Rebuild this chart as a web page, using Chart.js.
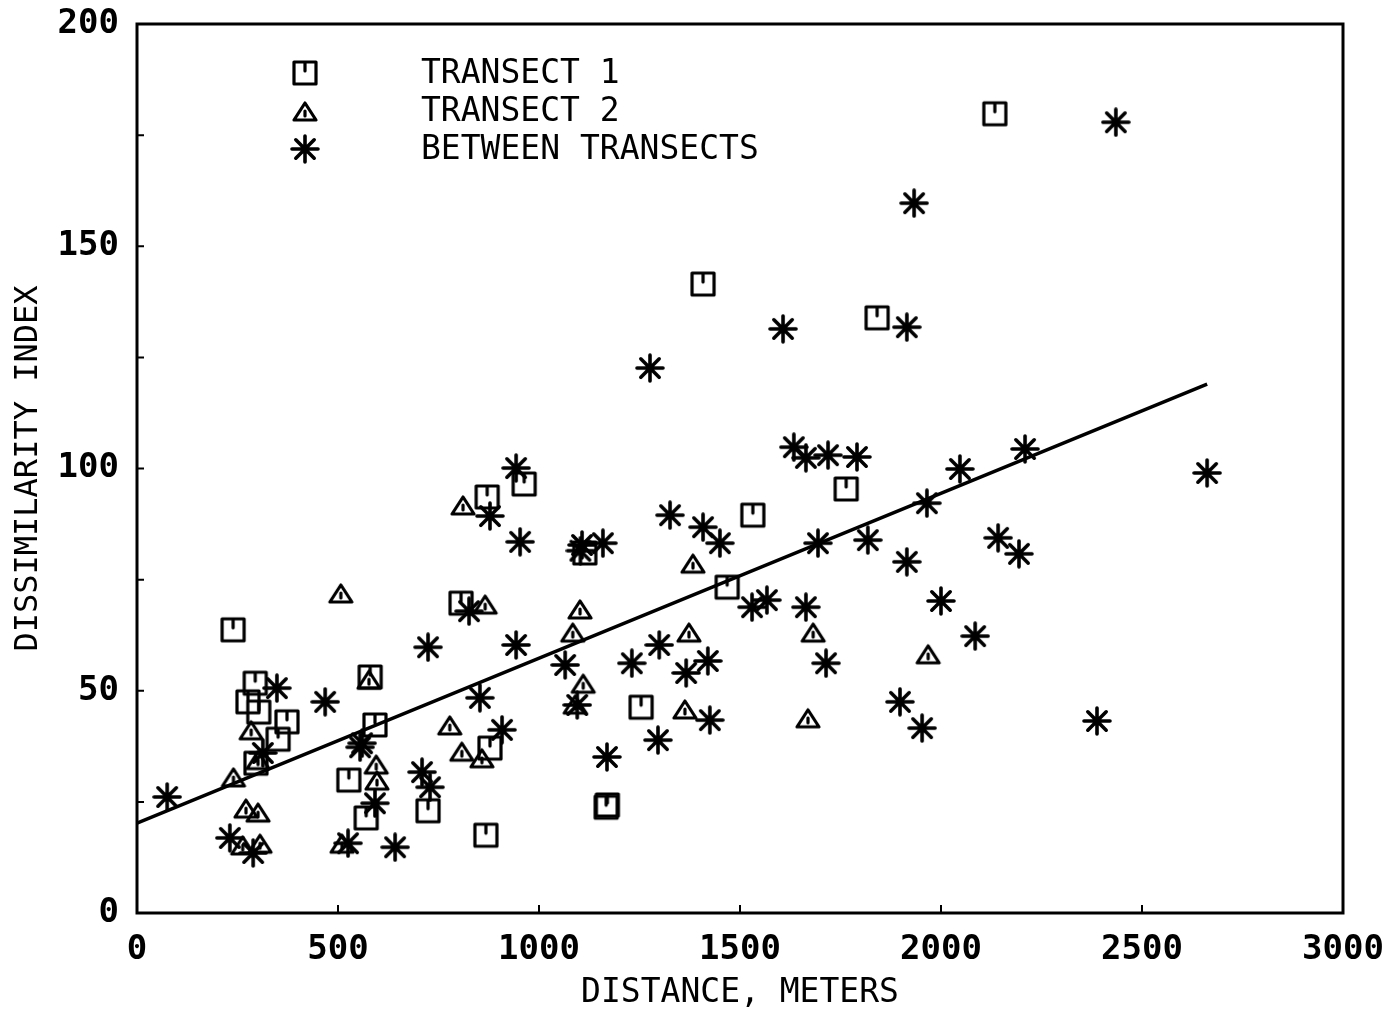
<!DOCTYPE html>
<html>
<head>
<meta charset="utf-8">
<script src="https://cdn.jsdelivr.net/npm/chart.js@4.4.1/dist/chart.umd.min.js"></script>
<style>
  html, body { margin: 0; padding: 0; background: #fff; }
</style>
</head>
<body>
<canvas id="chart" width="1386" height="1010"></canvas>
<script>
// values
var transect1X = [239, 2134, 1408, 1841, 963, 871, 1532, 1764, 1468, 1114, 806, 580, 294, 276, 303, 373, 351, 296, 592, 527, 570, 724, 868, 878, 1254, 1167, 1170];
var transect1Y = [63.7, 179.8, 141.5, 133.9, 96.5, 93.6, 89.5, 95.4, 73.3, 81.0, 69.7, 53.1, 51.7, 47.5, 45.2, 43.0, 39.1, 33.7, 42.3, 29.9, 21.4, 23.0, 17.5, 37.1, 46.3, 23.8, 24.3];

var transect2X = [507, 811, 866, 1102, 1084, 1110, 1383, 1373, 1363, 1682, 1669, 1968, 778, 808, 858, 577, 595, 597, 240, 284, 271, 301, 306, 263, 510, 1090, 301];
var transect2Y = [72.0, 91.8, 69.5, 68.4, 63.2, 51.7, 78.7, 63.2, 45.9, 63.2, 43.9, 58.3, 42.3, 36.4, 34.9, 52.6, 33.5, 29.9, 30.6, 41.2, 23.6, 22.7, 15.7, 15.3, 15.7, 47.0, 34.5];

var betweenX = [75, 2435, 1933, 1915, 1607, 1276, 1634, 1664, 1719, 1791, 2047, 2209, 2662, 943, 878, 953, 1326, 1408, 1450, 1107, 1159, 1694, 1818, 1965, 2142, 2194, 1915, 2000, 2085, 1530, 1567, 1664, 1714, 826, 724, 943, 1065, 1231, 1299, 1366, 1420, 1425, 1296, 1169, 1095, 1898, 1953, 2388, 468, 853, 908, 560, 592, 709, 729, 525, 642, 348, 313, 555, 231, 289, 1103];
var betweenY = [26.1, 177.9, 159.7, 131.8, 131.4, 122.6, 104.8, 102.4, 103.0, 102.6, 99.9, 104.4, 99.0, 100.1, 89.3, 83.5, 89.5, 86.8, 83.2, 82.8, 83.2, 83.2, 83.9, 92.2, 84.4, 80.8, 79.0, 70.2, 62.3, 68.8, 70.4, 68.8, 56.2, 67.9, 59.8, 60.3, 55.8, 56.2, 60.3, 54.0, 56.7, 43.4, 38.9, 35.1, 46.8, 47.5, 41.6, 43.2, 47.5, 48.4, 41.2, 38.2, 24.7, 31.7, 28.3, 15.7, 14.8, 50.6, 36.0, 37.3, 16.9, 13.5, 81.5];

var fitX = [0, 2662];
var fitY = [20.2, 119.0];

var xTickValues = [0, 500, 1000, 1500, 2000, 2500, 3000];
var yTickValues = [0, 25, 50, 75, 100, 125, 150, 175, 200];

var legendLabels = ['TRANSECT 1', 'TRANSECT 2', 'BETWEEN TRANSECTS'];

var monoFont = '"DejaVu Sans Mono", "Liberation Mono", monospace';

function toPoints(xs, ys) {
  var pts = [];
  for (var i = 0; i < xs.length; i++) {
    pts.push({x: xs[i], y: ys[i]});
  }
  return pts;
}

// plotter-like symbols drawn on small canvases
function makeMarker(kind) {
  var c = document.createElement('canvas');
  c.width = 30; c.height = 30;
  var g = c.getContext('2d');
  g.strokeStyle = '#000';
  g.lineWidth = 3.2;
  g.lineCap = 'round';
  g.lineJoin = 'round';
  g.beginPath();
  if (kind == 'square') {
    g.rect(4, 4, 22, 22);
    g.moveTo(15, 5); g.lineTo(15, 13);
  } else if (kind == 'triangle') {
    g.moveTo(4, 24); g.lineTo(15, 7); g.lineTo(26, 24); g.closePath();
    g.moveTo(15, 15); g.lineTo(15, 20);
  } else {
    g.lineWidth = 3.6;
    var r = 13;
    for (var k = 0; k < 4; k++) {
      var a = k * Math.PI / 4;
      g.moveTo(15 - r * Math.cos(a), 15 - r * Math.sin(a));
      g.lineTo(15 + r * Math.cos(a), 15 + r * Math.sin(a));
    }
  }
  g.stroke();
  return c;
}

var squareMark = makeMarker('square');
var triangleMark = makeMarker('triangle');
var starMark = makeMarker('star');
var legendMarks = [squareMark, triangleMark, starMark];

var framePlugin = {
  id: 'frame',
  afterDraw: function(chart) {
    var a = chart.chartArea;
    var ctx = chart.ctx;
    var xs = chart.scales.x, ys = chart.scales.y;
    ctx.save();
    ctx.strokeStyle = '#000';
    ctx.lineWidth = 3;
    ctx.strokeRect(a.left, a.top, a.right - a.left, a.bottom - a.top);
    ctx.lineWidth = 2;
    ctx.beginPath();
    xTickValues.forEach(function(v) {
      var px = xs.getPixelForValue(v);
      ctx.moveTo(px, a.bottom); ctx.lineTo(px, a.bottom - 8);
    });
    yTickValues.forEach(function(v) {
      var py = ys.getPixelForValue(v);
      ctx.moveTo(a.left, py); ctx.lineTo(a.left + 7, py);
    });
    ctx.stroke();

    // legend in the upper left of the plot
    ctx.fillStyle = '#000';
    ctx.font = '33px ' + monoFont;
    ctx.textBaseline = 'middle';
    ctx.textAlign = 'left';
    for (var i = 0; i < legendLabels.length; i++) {
      var ly = 74 + i * 38;
      var m = legendMarks[i];
      ctx.drawImage(m, 305 - m.width / 2, ly - 1 - m.height / 2);
      ctx.fillText(legendLabels[i], 421, ly);
    }
    ctx.restore();
  }
};

var ctx = document.getElementById('chart');
var myScatter = new Chart(ctx, {
  type: 'scatter',
  data: {
    datasets: [
      {
        label: 'fit',
        type: 'line',
        data: toPoints(fitX, fitY),
        borderColor: '#000',
        borderWidth: 3.5,
        pointRadius: 0,
        fill: false
      },
      {
        label: 'TRANSECT 1',
        data: toPoints(transect1X, transect1Y),
        pointStyle: squareMark,
        borderColor: '#000'
      },
      {
        label: 'TRANSECT 2',
        data: toPoints(transect2X, transect2Y),
        pointStyle: triangleMark,
        borderColor: '#000'
      },
      {
        label: 'BETWEEN TRANSECTS',
        data: toPoints(betweenX, betweenY),
        pointStyle: starMark,
        borderColor: '#000'
      }
    ]
  },
  options: {
    responsive: false,
    animation: false,
    events: [],
    layout: { padding: { top: 24, right: 43, left: 0, bottom: 0 } },
    plugins: {
      legend: { display: false },
      tooltip: { enabled: false }
    },
    scales: {
      x: {
        type: 'linear',
        min: 0,
        max: 3000,
        grid: { display: false },
        border: { display: false },
        ticks: {
          stepSize: 500,
          color: '#000',
          padding: 9,
          maxRotation: 0,
          font: { family: monoFont, size: 34, weight: 'bold' },
          callback: function(v) { return String(v); }
        },
        title: {
          display: true,
          text: 'DISTANCE, METERS',
          color: '#000',
          padding: { top: 0, bottom: 0 },
          font: { family: monoFont, size: 33, lineHeight: 1.0 }
        },
        afterFit: function(scale) {
          scale.height = 97;
          scale.paddingLeft = 0;
          scale.paddingRight = 0;
        }
      },
      y: {
        type: 'linear',
        min: 0,
        max: 200,
        grid: { display: false },
        border: { display: false },
        ticks: {
          stepSize: 25,
          color: '#000',
          padding: 10,
          font: { family: monoFont, size: 34, weight: 'bold' },
          callback: function(v) { return v % 50 === 0 ? String(v) : ''; }
        },
        title: {
          display: true,
          text: 'DISSIMILARITY INDEX',
          color: '#000',
          padding: { top: 9, bottom: 0 },
          font: { family: monoFont, size: 32, lineHeight: 1.2 }
        },
        afterFit: function(scale) {
          scale.width = 137;
          scale.paddingTop = 0;
          scale.paddingBottom = 0;
        }
      }
    }
  },
  plugins: [framePlugin]
});
</script>
</body>
</html>
